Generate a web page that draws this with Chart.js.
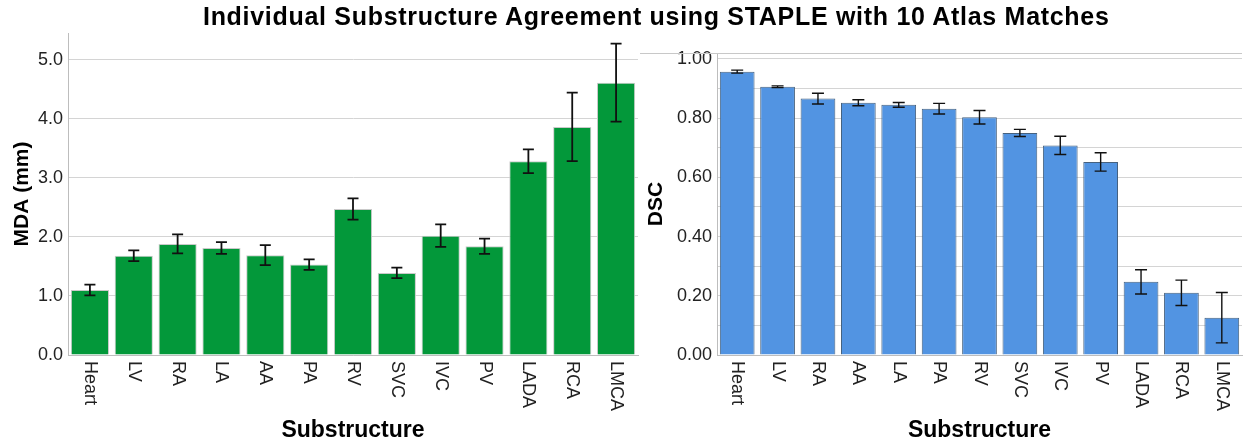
<!DOCTYPE html>
<html>
<head>
<meta charset="utf-8">
<script src="https://cdn.jsdelivr.net/npm/chart.js@4"></script>
<style>
  body { margin: 0; background: #fff; }
  #wrap { position: relative; width: 1244px; height: 444px; }
  #left { position: absolute; left: 0; top: 0; width: 640px; height: 444px; }
  #right { position: absolute; left: 640px; top: 0; width: 604px; height: 444px; }
  #title { position: absolute; left: 203px; top: 4px; font: bold 25px "Liberation Sans", Arial, sans-serif;
           letter-spacing: 0.7px; line-height: 25px; color: #000; white-space: nowrap; }
</style>
</head>
<body>
<div id="wrap">
  <div id="left"><canvas id="mda" width="640" height="444"></canvas></div>
  <div id="right"><canvas id="dsc" width="604" height="444"></canvas></div>
  <div id="title">Individual Substructure Agreement using STAPLE with 10 Atlas Matches</div>
</div>
<script>
const structures = ['Heart', 'LV', 'RA', 'LA', 'AA', 'PA', 'RV', 'SVC', 'IVC', 'PV', 'LADA', 'RCA', 'LMCA'];
const mdaMeans = [1.10, 1.68, 1.88, 1.81, 1.69, 1.53, 2.47, 1.39, 2.02, 1.84, 3.28, 3.86, 4.61];
const mdaErrors = [0.09, 0.09, 0.16, 0.10, 0.17, 0.09, 0.18, 0.09, 0.19, 0.13, 0.20, 0.58, 0.66];

// DSC panel has its own ordering of categories
const dscStructures = ['Heart', 'LV', 'RA', 'AA', 'LA', 'PA', 'RV', 'SVC', 'IVC', 'PV', 'LADA', 'RCA', 'LMCA'];
const dscMeans = [0.957, 0.906, 0.866, 0.852, 0.845, 0.832, 0.803, 0.750, 0.708, 0.652, 0.247, 0.210, 0.126];
const dscErrors = [0.005, 0.003, 0.018, 0.010, 0.008, 0.018, 0.023, 0.012, 0.031, 0.031, 0.041, 0.043, 0.085];

Chart.defaults.font.family = '"Liberation Sans", Arial, sans-serif';
Chart.defaults.color = '#222';

// error bars + downward-reading category labels
const extras = {
  id: 'extras',
  beforeDatasetsDraw(chart, args, opts) {
    if (!opts.topLine) return;
    const ctx = chart.ctx;
    ctx.save();
    ctx.strokeStyle = '#c8c8c8';
    ctx.lineWidth = 1;
    ctx.beginPath();
    ctx.moveTo(0, chart.chartArea.top + 0.5);
    ctx.lineTo(chart.chartArea.right, chart.chartArea.top + 0.5);
    ctx.stroke();
    ctx.restore();
  },
  afterDatasetsDraw(chart, args, opts) {
    const ctx = chart.ctx;
    const y = chart.scales.y;
    const meta = chart.getDatasetMeta(0);
    ctx.save();
    ctx.strokeStyle = '#111';
    ctx.lineWidth = opts.lineWidth;
    meta.data.forEach((bar, i) => {
      const v = chart.data.datasets[0].data[i];
      const e = opts.errors[i];
      const top = y.getPixelForValue(v + e);
      const bot = y.getPixelForValue(v - e);
      const half = opts.cap / 2;
      ctx.beginPath();
      ctx.moveTo(bar.x, top); ctx.lineTo(bar.x, bot);
      ctx.moveTo(bar.x - half, top); ctx.lineTo(bar.x + half, top);
      ctx.moveTo(bar.x - half, bot); ctx.lineTo(bar.x + half, bot);
      ctx.stroke();
    });
    ctx.restore();
  },
  afterDraw(chart) {
    const ctx = chart.ctx;
    const x = chart.scales.x;
    ctx.save();
    ctx.font = '18px "Liberation Sans", Arial, sans-serif';
    ctx.fillStyle = '#222';
    ctx.textAlign = 'left';
    ctx.textBaseline = 'middle';
    chart.data.labels.forEach((lab, i) => {
      ctx.save();
      ctx.translate(x.getPixelForTick(i), x.top + 6);
      ctx.rotate(Math.PI / 2);
      ctx.fillText(lab, 0, 0);
      ctx.restore();
    });
    ctx.restore();
  }
};

function makeChart(id, labels, values, errors, cfg) {
  return new Chart(document.getElementById(id), {
    type: 'bar',
    data: {
      labels: labels,
      datasets: [{
        data: values,
        backgroundColor: cfg.fill,
        borderColor: cfg.edge,
        borderWidth: 1,
        barPercentage: cfg.barPct,
        categoryPercentage: 1
      }]
    },
    options: {
      responsive: false,
      animation: false,
      layout: { padding: { top: cfg.top, right: cfg.right, left: 0, bottom: 0 } },
      plugins: {
        legend: { display: false },
        tooltip: { enabled: false },
        extras: { errors: errors, cap: cfg.cap, lineWidth: cfg.lw, topLine: cfg.topLine }
      },
      scales: {
        x: {
          grid: { display: false },
          border: { color: '#bdbdbd' },
          ticks: { display: false },
          afterFit: (s) => { s.height = 444 - 355; },
          title: {
            display: true, text: 'Substructure', color: '#000',
            font: { size: 23, weight: 'bold' }, padding: { top: 0, bottom: 0 }
          }
        },
        y: {
          min: 0,
          max: cfg.max,
          grid: { color: '#d4d4d4', drawTicks: false },
          border: { color: '#bdbdbd' },
          afterFit: (s) => { s.width = cfg.axisW; },
          ticks: {
            stepSize: cfg.step,
            includeBounds: false,
            padding: 5,
            font: { size: 18 },
            color: '#222',
            callback: cfg.tickFmt
          },
          title: {
            display: true, text: cfg.yTitle, color: '#000',
            font: { size: 21, weight: 'bold' }, padding: { top: cfg.titlePad, bottom: 0 }
          }
        }
      }
    },
    plugins: [extras]
  });
}

makeChart('mda', structures, mdaMeans, mdaErrors, {
  fill: '#03983a', edge: '#c9c9c9', barPct: 0.87, top: 33, right: 2,
  max: 5.45, step: 1, axisW: 68, cap: 11, lw: 1.8, yTitle: 'MDA (mm)', titlePad: 10, topLine: false,
  tickFmt: (v) => v.toFixed(1)
});

makeChart('dsc', dscStructures, dscMeans, dscErrors, {
  fill: '#5294e2', edge: '#46617e', barPct: 0.86, top: 53, right: 2,
  max: 1.02, step: 0.1, axisW: 77, cap: 12, lw: 1.4, yTitle: 'DSC', titlePad: 4, topLine: true,
  tickFmt: (v) => {
    const k = Math.round(v * 10);
    return k % 2 === 0 ? v.toFixed(2) : '';
  }
});
</script>
</body>
</html>
